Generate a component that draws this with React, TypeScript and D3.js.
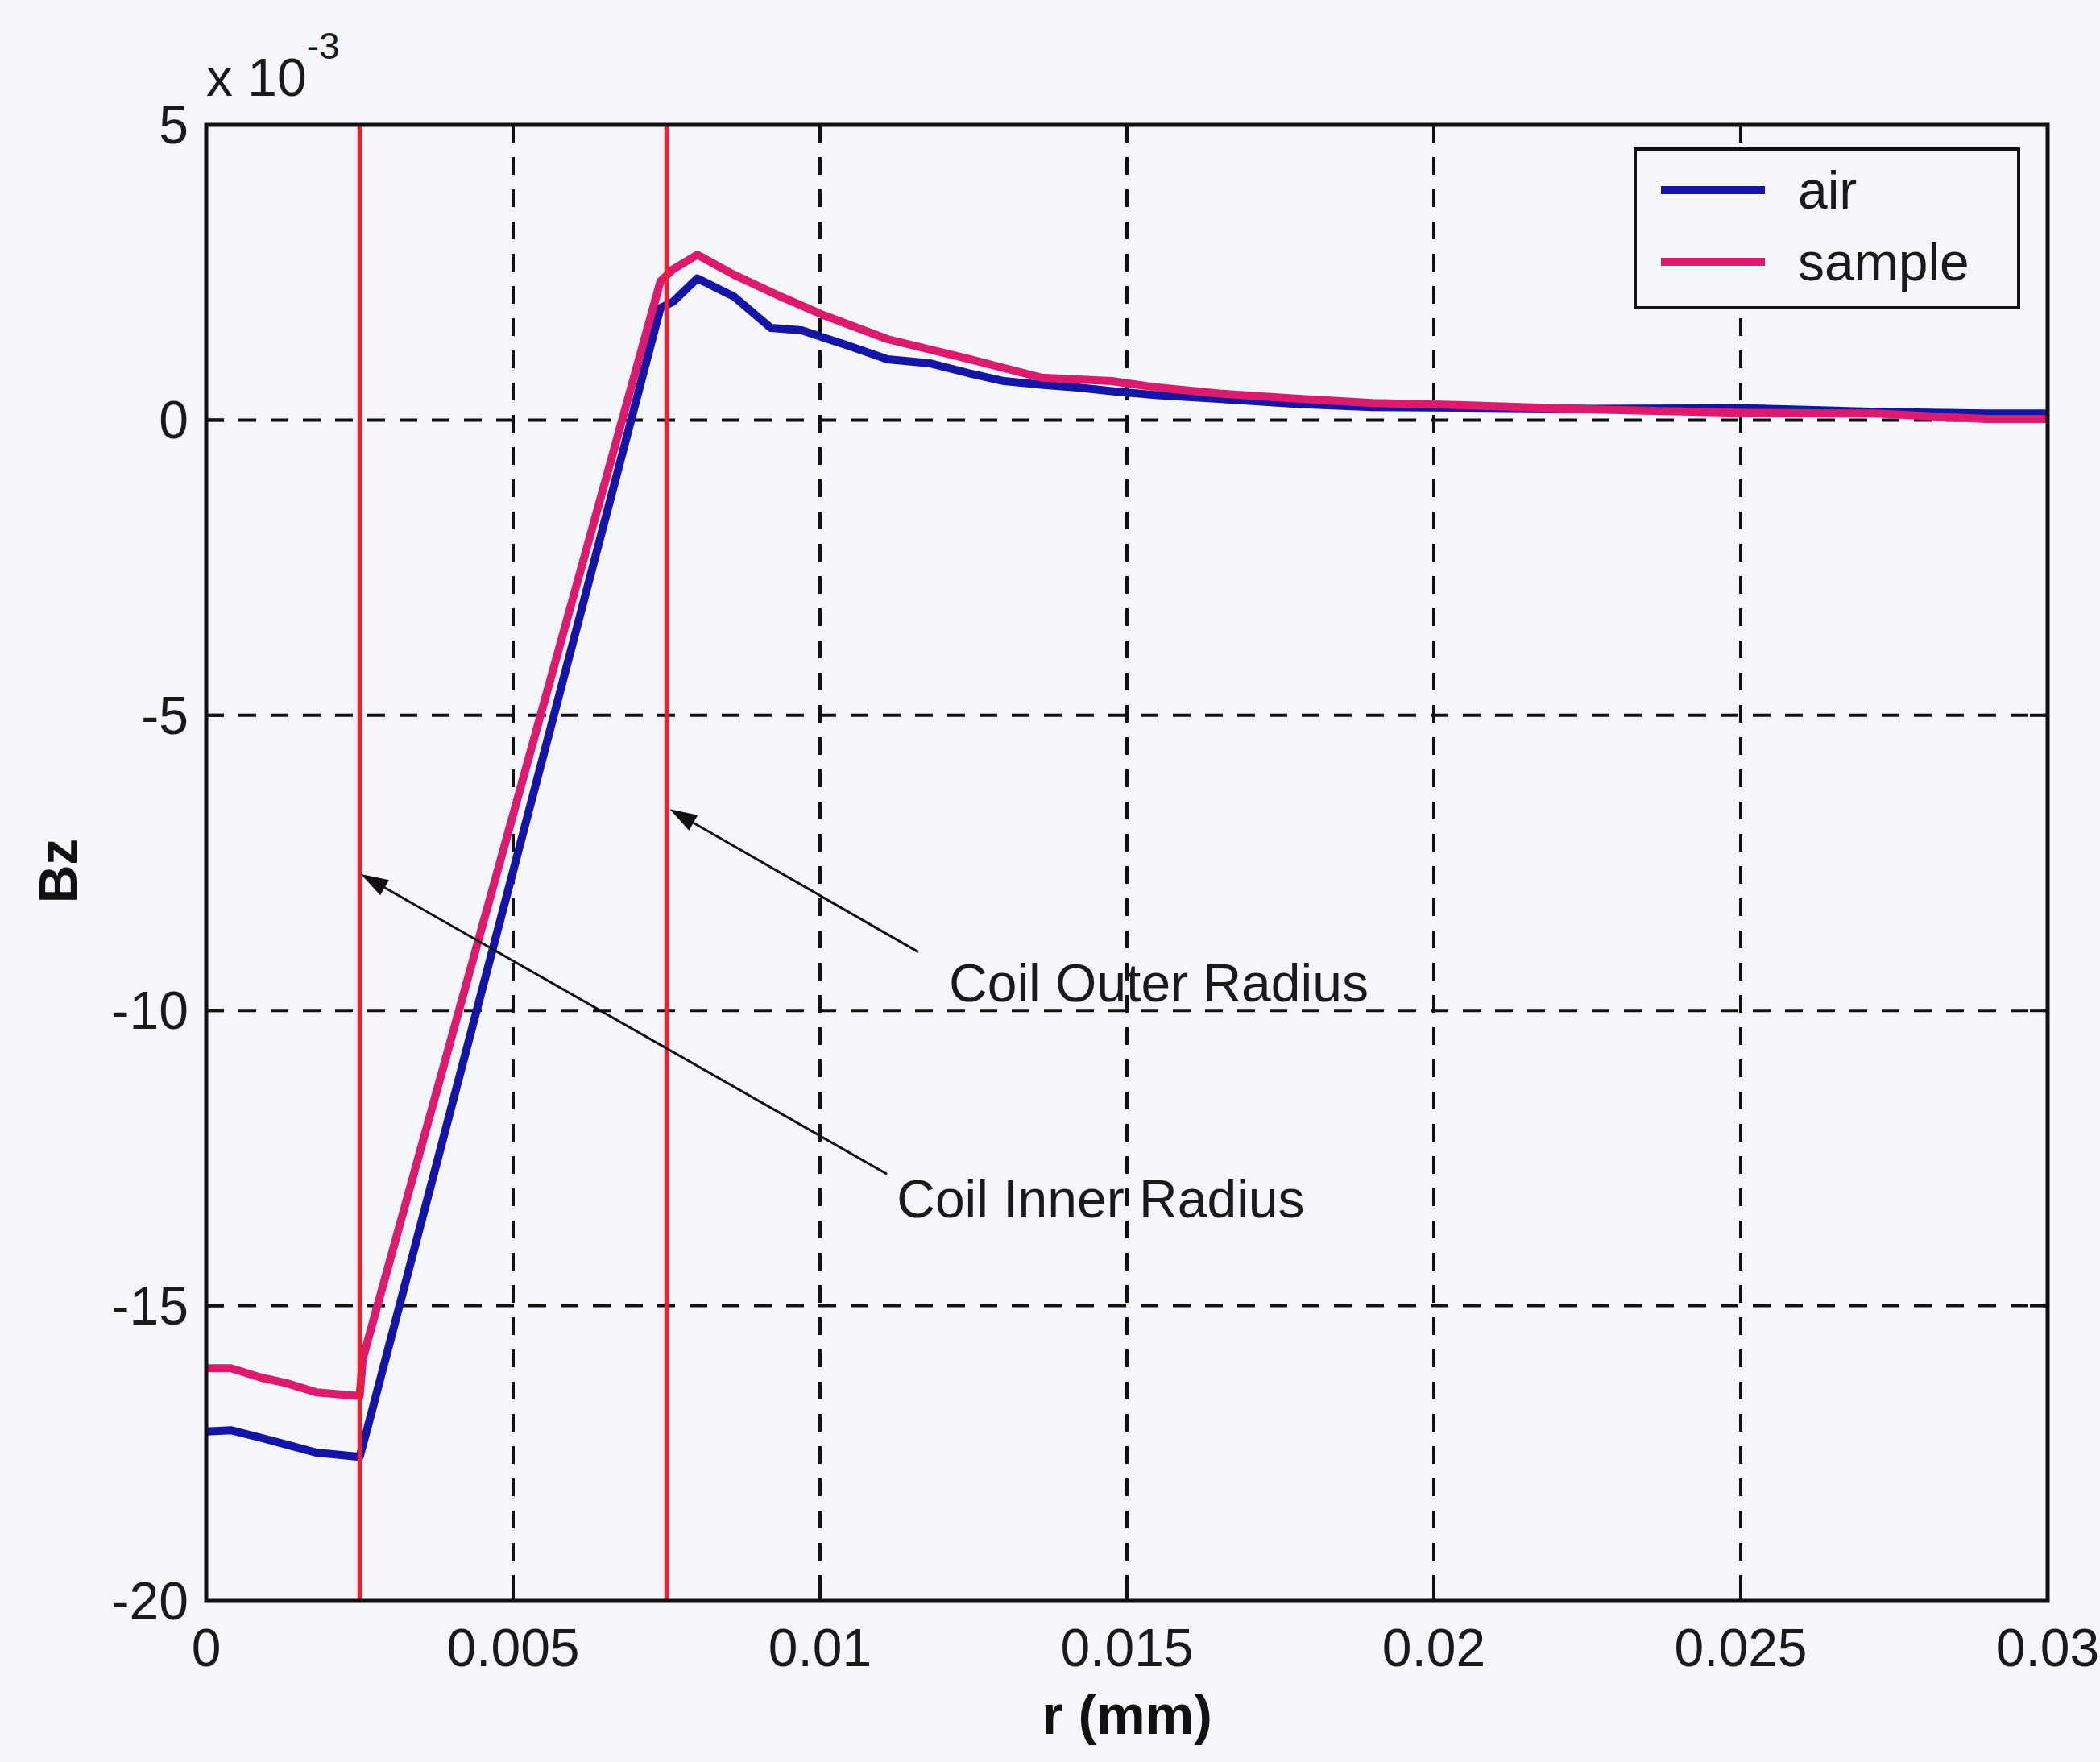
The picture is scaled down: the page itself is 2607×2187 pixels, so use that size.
import React from "react";
import * as d3 from "d3";

// ---- data (Bz in units of 1e-3) ----
const Y_EXPONENT = -3;
const X_TICKS = [0, 0.005, 0.01, 0.015, 0.02, 0.025, 0.03];
const X_TICK_LABELS = ["0", "0.005", "0.01", "0.015", "0.02", "0.025", "0.03"];
const Y_TICKS = [5, 0, -5, -10, -15, -20];
const Y_TICK_LABELS = ["5", "0", "-5", "-10", "-15", "-20"];

const AIR_R = [0, 0.0004, 0.0009, 0.0013, 0.0018, 0.0025, 0.00262, 0.0074, 0.0076, 0.008, 0.0086, 0.0092, 0.0097, 0.0104, 0.0111, 0.0118, 0.0124, 0.013, 0.0136, 0.0142, 0.01475, 0.0155, 0.0165, 0.0178, 0.019, 0.0205, 0.0226, 0.0251, 0.0272, 0.029, 0.03];
const AIR_BZ = [-17.13, -17.11, -17.24, -17.35, -17.49, -17.56, -17.1, 1.9, 2.0, 2.4, 2.09, 1.56, 1.52, 1.28, 1.03, 0.96, 0.8, 0.66, 0.6, 0.55, 0.49, 0.42, 0.36, 0.27, 0.22, 0.21, 0.19, 0.2, 0.14, 0.11, 0.11];

const SAMPLE_R = [0, 0.0004, 0.0009, 0.0013, 0.0018, 0.0025, 0.00255, 0.0074, 0.0076, 0.008, 0.0086, 0.0093, 0.01005, 0.0111, 0.0124, 0.0136, 0.01475, 0.0155, 0.0165, 0.0178, 0.019, 0.0205, 0.0226, 0.0251, 0.0272, 0.029, 0.03];
const SAMPLE_BZ = [-16.06, -16.06, -16.22, -16.31, -16.47, -16.53, -15.9, 2.35, 2.55, 2.8, 2.46, 2.12, 1.78, 1.37, 1.04, 0.72, 0.66, 0.55, 0.45, 0.36, 0.29, 0.25, 0.18, 0.12, 0.11, 0.02, 0.02];

const COIL_RADII = [0.0025, 0.0075];
const SERIES_NAMES = ["air", "sample"];
const ANNOT_TEXT = ["Coil Outer Radius", "Coil Inner Radius"];
// [tipR, tipBz, tailR, tailBz, textR, textBz]
const ANNOT_OUTER = [0.00755, -6.59, 0.0116, -9.01, 0.0121, -9.85];
const ANNOT_INNER = [0.00252, -7.69, 0.01109, -12.77, 0.01125, -13.5];

const W = 2607;
const H = 2187;
const FONT = "'Liberation Sans', Arial, Helvetica, sans-serif";
const BLUE = "#1414a6";
const PINK = "#dc1a6e";
const RED = "#ee2030";
const BG = "#f4f6fa";

export default function App() {
  const x = d3.scaleLinear().domain([0, 0.03]).range([256, 2542]);
  const y = d3.scaleLinear().domain([-20, 5]).range([1987, 155]);
  const [x0, x1] = x.range();
  const [y0, y1] = [y(5), y(-20)];

  const line = d3
    .line<[number, number]>()
    .x((d) => x(d[0]))
    .y((d) => y(d[1]));

  const airPts = AIR_R.map((r, i) => [r, AIR_BZ[i]] as [number, number]);
  const samplePts = SAMPLE_R.map((r, i) => [r, SAMPLE_BZ[i]] as [number, number]);

  const tick = 22;
  const fs = 66;

  const arrow = (a: number[], key: string) => {
    const tx = x(a[0]);
    const ty = y(a[1]);
    const sx = x(a[2]);
    const sy = y(a[3]);
    const ang = Math.atan2(ty - sy, tx - sx);
    const L = 34;
    const Wd = 11;
    const bx = tx - L * Math.cos(ang);
    const by = ty - L * Math.sin(ang);
    const px = -Math.sin(ang) * Wd;
    const py = Math.cos(ang) * Wd;
    return (
      <g key={key}>
        <line x1={sx} y1={sy} x2={bx} y2={by} stroke="#111" strokeWidth={3} />
        <polygon points={`${tx},${ty} ${bx + px},${by + py} ${bx - px},${by - py}`} fill="#111" />
      </g>
    );
  };

  return (
    <svg
      width={W}
      height={H}
      style={{ position: "absolute", left: 0, top: 0, display: "block" }}
      fontFamily={FONT}
    >
      <rect x={0} y={0} width={W} height={H} fill={BG} />

      {/* grid */}
      <g stroke="#111" strokeWidth={4} strokeDasharray="22,18">
        {X_TICKS.slice(1, -1).map((t) => (
          <line key={"gx" + t} x1={x(t)} x2={x(t)} y1={y0} y2={y1} />
        ))}
        {Y_TICKS.slice(1, -1).map((t) => (
          <line key={"gy" + t} x1={x0} x2={x1} y1={y(t)} y2={y(t)} />
        ))}
      </g>

      {/* ticks */}
      <g stroke="#111" strokeWidth={4}>
        {X_TICKS.map((t) => (
          <g key={"tx" + t}>
            <line x1={x(t)} x2={x(t)} y1={y1} y2={y1 - tick} />
            <line x1={x(t)} x2={x(t)} y1={y0} y2={y0 + tick} />
          </g>
        ))}
        {Y_TICKS.map((t) => (
          <g key={"ty" + t}>
            <line x1={x0} x2={x0 + tick} y1={y(t)} y2={y(t)} />
            <line x1={x1} x2={x1 - tick} y1={y(t)} y2={y(t)} />
          </g>
        ))}
      </g>

      {/* data */}
      <path d={line(airPts) || ""} fill="none" stroke={BLUE} strokeWidth={10} strokeLinejoin="round" />
      <path d={line(samplePts) || ""} fill="none" stroke={PINK} strokeWidth={10} strokeLinejoin="round" />

      {/* coil radii */}
      {COIL_RADII.map((r) => (
        <line key={"c" + r} x1={x(r)} x2={x(r)} y1={y0} y2={y1} stroke={RED} strokeWidth={5.5} />
      ))}

      {/* axes box */}
      <rect x={x0} y={y0} width={x1 - x0} height={y1 - y0} fill="none" stroke="#111" strokeWidth={5} />

      {/* tick labels */}
      <g fontSize={fs} fill="#1a1a1a">
        {X_TICKS.map((t, i) => (
          <text key={"lx" + t} x={x(t)} y={y1 + 58} textAnchor="middle" dominantBaseline="central">
            {X_TICK_LABELS[i]}
          </text>
        ))}
        {Y_TICKS.map((t, i) => (
          <text key={"ly" + t} x={x0 - 22} y={y(t)} textAnchor="end" dominantBaseline="central">
            {Y_TICK_LABELS[i]}
          </text>
        ))}
        <text x={x0} y={119}>
          x 10
          <tspan fontSize={46} dy={-46}>
            {String(Y_EXPONENT)}
          </tspan>
        </text>
      </g>

      {/* axis labels */}
      <text x={(x0 + x1) / 2} y={2128} textAnchor="middle" dominantBaseline="central" fontSize={68} fontWeight="bold" fill="#111">
        r (mm)
      </text>
      <text
        transform={`translate(72,1081) rotate(-90)`}
        textAnchor="middle"
        dominantBaseline="central"
        fontSize={66}
        fontWeight="bold"
        fill="#111"
      >
        Bz
      </text>

      {/* annotations */}
      {arrow(ANNOT_OUTER, "ao")}
      {arrow(ANNOT_INNER, "ai")}
      <g fontSize={66} fill="#1a1a1a">
        <text x={x(ANNOT_OUTER[4])} y={y(ANNOT_OUTER[5])}>{ANNOT_TEXT[0]}</text>
        <text x={x(ANNOT_INNER[4])} y={y(ANNOT_INNER[5])}>{ANNOT_TEXT[1]}</text>
      </g>

      {/* legend */}
      <g>
        <rect x={2030} y={185} width={476} height={197} fill={BG} stroke="#111" strokeWidth={4} />
        <line x1={2062} x2={2191} y1={236} y2={236} stroke={BLUE} strokeWidth={10} />
        <line x1={2062} x2={2191} y1={325} y2={325} stroke={PINK} strokeWidth={10} />
        <g fontSize={66} fill="#1a1a1a">
          <text x={2232} y={236} dominantBaseline="central">{SERIES_NAMES[0]}</text>
          <text x={2232} y={325} dominantBaseline="central">{SERIES_NAMES[1]}</text>
        </g>
      </g>
    </svg>
  );
}
